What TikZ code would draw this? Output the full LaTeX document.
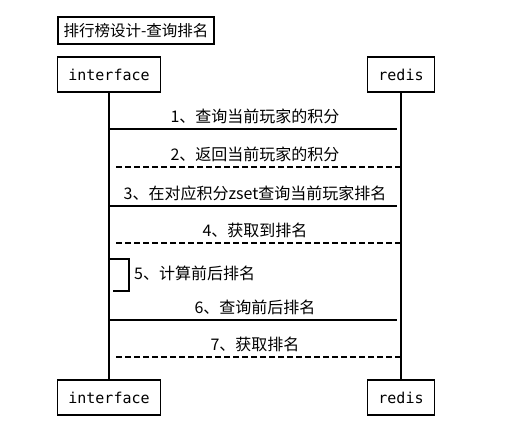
\documentclass[tikz,border=0pt]{standalone}
\usepackage{fontspec}
\setmainfont{Noto Sans CJK SC}
\setmonofont{DejaVu Sans Mono}
\usetikzlibrary{positioning}
\usetikzlibrary{calc}
\tikzset{actor/.style={draw, line width=1.4pt, minimum height=35pt, inner xsep=11pt, font=\ttfamily\fontsize{15}{15}\selectfont}}
\tikzset{lifeline/.style={line width=1.4pt}}
\tikzset{call/.style={line width=1.4pt, shorten >=4pt}}
\tikzset{reply/.style={line width=1.4pt, dash pattern=on 6pt off 3pt, shorten >=6pt}}
\tikzset{msg/.style={font=\fontsize{16}{16}\selectfont, inner sep=0pt}}

\begin{document}
\begin{tikzpicture}[x=1pt, y=-1pt]
\useasboundingbox (0,0) rectangle (514,431);

\node[draw, line width=1.4pt, minimum height=27pt, inner xsep=5.5pt, font=\fontsize{15.5}{15.5}\selectfont] (title) at (136,30.5) {排行榜设计-查询排名};

\node[actor] (ifTop) at (109,74.5) {interface};
\node[actor] (rdTop) at (401,74.5) {redis};
\node[actor] (ifBot) at (109,397.5) {interface};
\node[actor] (rdBot) at (401,397.5) {redis};

\draw[lifeline] (ifTop) -- (ifBot);
\draw[lifeline] (rdTop) -- (rdBot);

% messages between the lifelines
\foreach \n/\y/\txt in {1/129/{1、查询当前玩家的积分},
                        2/167/{2、返回当前玩家的积分},
                        3/206/{3、在对应积分zset查询当前玩家排名},
                        4/243/{4、获取到排名},
                        6/320/{6、查询前后排名},
                        7/357/{7、获取排名}} {
  \coordinate (if\n) at (ifTop.south |- 0,\y);
  \coordinate (rd\n) at (rdTop.south |- 0,\y);
  \node[msg, anchor=south] (lbl\n) at ($(if\n)!0.5!(rd\n) + (0,-5)$) {\txt};
}
\draw[call] (if1) -- (rd1);
\draw[reply] (rd2) -- (if2);
\draw[call] (if3) -- (rd3);
\draw[reply] (rd4) -- (if4);
\draw[call] (if6) -- (rd6);
\draw[reply] (rd7) -- (if7);

% self call
\coordinate (if5a) at (ifTop.south |- 0,259);
\coordinate (if5b) at (ifTop.south |- 0,291);
\draw[lifeline] (if5a) -- ++(20,0) |- ([xshift=4pt]if5b);
\node[msg, anchor=west] (lbl5) at (134,273) {5、计算前后排名};
\end{tikzpicture}
\end{document}
